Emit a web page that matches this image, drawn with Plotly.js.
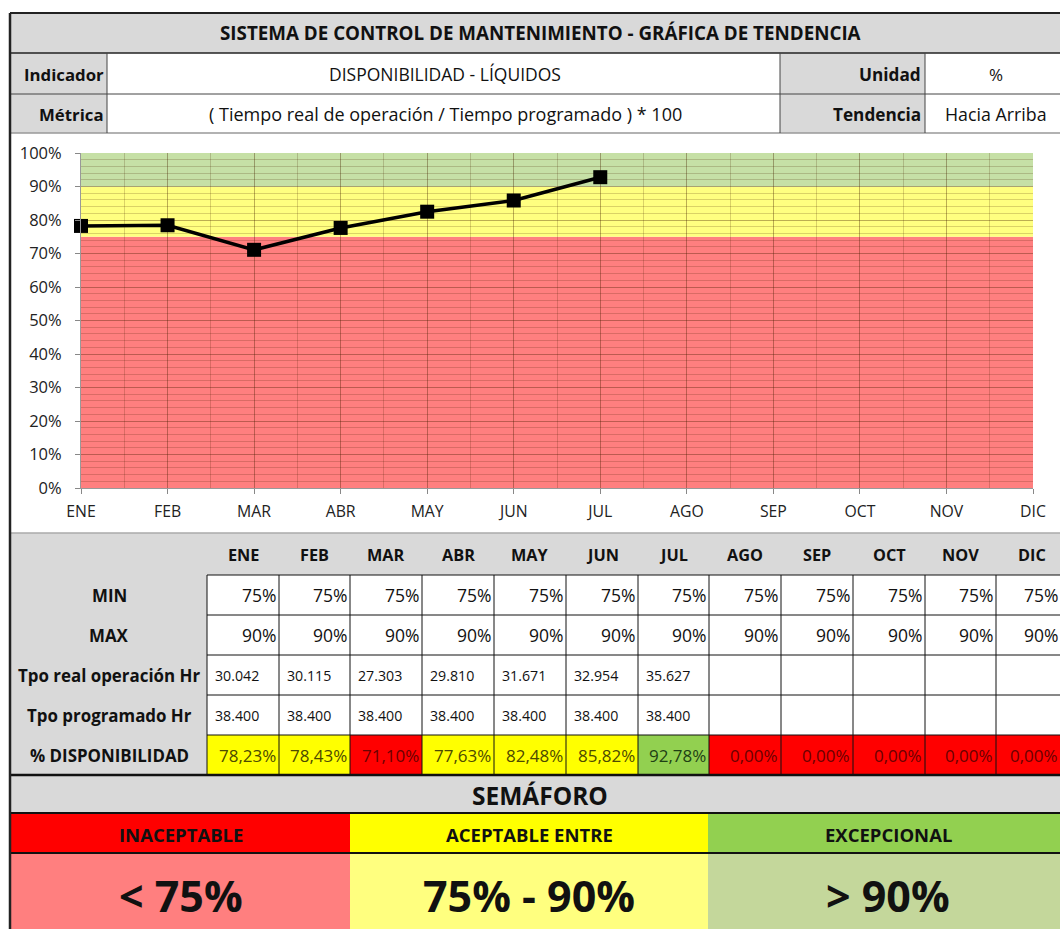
<!DOCTYPE html>
<html>
<head>
<meta charset="utf-8">
<script src="https://cdn.plot.ly/plotly-3.0.1.min.js"></script>
<style>html,body{margin:0;padding:0;background:#fff;}#chart{width:1060px;height:929px;}</style>
</head>
<body>
<div id="chart"></div>
<script>
// ---------- DATA ----------
const months = ["ENE","FEB","MAR","ABR","MAY","JUN","JUL","AGO","SEP","OCT","NOV","DIC"];
const minVals = [75,75,75,75,75,75,75,75,75,75,75,75];
const maxVals = [90,90,90,90,90,90,90,90,90,90,90,90];
const tpoReal = [30042, 30115, 27303, 29810, 31671, 32954, 35627];
const tpoProg = [38400, 38400, 38400, 38400, 38400, 38400, 38400];
const disponibilidad = [78.23, 78.43, 71.10, 77.63, 82.48, 85.82, 92.78, 0, 0, 0, 0, 0];
const yTicks = [0,10,20,30,40,50,60,70,80,90,100];

const titleText = "SISTEMA DE CONTROL DE MANTENIMIENTO - GRÁFICA DE TENDENCIA";
const indicador = "DISPONIBILIDAD - LÍQUIDOS";
const metrica = "( Tiempo real de operación / Tiempo programado ) * 100";
const unidad = "%";
const tendencia = "Hacia Arriba";
const rowLabels = ["MIN","MAX","Tpo real operación Hr","Tpo programado Hr","% DISPONIBILIDAD"];
const semLabels = ["INACEPTABLE","ACEPTABLE ENTRE","EXCEPCIONAL"];

// ---------- HELPERS ----------
const W = 1060, H = 929;
const PX = p => p / W;
const PY = p => 1 - p / H;
const FONT = "'Open Sans', Lato, sans-serif";
const shapes = [];
const ann = [];
function rect(x0,y0,x1,y1,fill,lc,lw){
  shapes.push({type:'rect',xref:'paper',yref:'paper',x0:PX(x0),x1:PX(x1),y0:PY(y1),y1:PY(y0),
    fillcolor:fill||'rgba(0,0,0,0)',line:{color:lc||'rgba(0,0,0,0)',width:lw||0},layer:'below'});
}
function line(x0,y0,x1,y1,c,w){
  shapes.push({type:'line',xref:'paper',yref:'paper',x0:PX(x0),x1:PX(x1),y0:PY(y0),y1:PY(y1),
    line:{color:c,width:w},layer:'above'});
}
function txt(x,y,s,o){
  o = o||{};
  ann.push({xref:'paper',yref:'paper',x:PX(x),y:PY(y),text:s,showarrow:false,
    xanchor:o.anchor||'center',yanchor:'middle',borderpad:0,
    font:{family:FONT,size:o.size||15,color:o.color||'#111',weight:o.bold?'bold':'normal'}});
}
const fmtPct = v => v.toFixed(2).replace('.',',') + '%';
const fmtHr = v => { const s = String(v); return s.slice(0,s.length-3) + '.' + s.slice(-3); };

const GREY = '#d9d9d9';
// ---------- HEADER ----------
rect(10,13,1075,53,GREY);
rect(10,53,107,133,GREY);
rect(107,53,780,133,'#ffffff');
rect(780,53,925,133,GREY);
rect(925,53,1075,133,'#ffffff');
line(10,53,1075,53,'#222',1.5);
line(10,94,1075,94,'#444',1);
line(10,133,1075,133,'#999',1.5);
line(107,53,107,133,'#444',1);
line(780,53,780,133,'#444',1);
line(925,53,925,133,'#444',1);
txt(540,33,titleText,{bold:true,size:18.8});
txt(105,74,'Indicador',{bold:true,anchor:'right',size:16.8});
txt(445,74,indicador,{size:17.5});
txt(922,74,'Unidad',{bold:true,anchor:'right',size:17.2});
txt(996,74,unidad,{size:17});
txt(105,114,'Métrica',{bold:true,anchor:'right',size:16.8});
txt(445,114,metrica,{size:18});
txt(922,114,'Tendencia',{bold:true,anchor:'right',size:17.2});
txt(996,114,tendencia,{size:17.8});

// ---------- TABLE ----------
const colEdges = [207,279,350,422,494,566,638,709,781,853,925,996,1068];
const rowEdges = [575,615,655,695,735,775];
rect(10,533,1075,775,GREY);
line(10,533,1075,533,'#aaa',1.5);
for(let r=0;r<4;r++) rect(207,rowEdges[r],1075,rowEdges[r+1],'#ffffff');
function dispColor(v){ return v < minVals[0] ? '#ff0000' : (v <= maxVals[0] ? '#ffff00' : '#92d050'); }
function dispText(v){ return v < minVals[0] ? '#6b0000' : (v <= maxVals[0] ? '#4d4a00' : '#1e3f14'); }
months.forEach((m,i)=>{
  const x0 = colEdges[i], x1 = colEdges[i+1], xc = (x0+x1)/2;
  const xr = Math.min(x1-2, 1059);
  rect(x0,735,x1,775,dispColor(disponibilidad[i]));
  txt(xc,555,m,{bold:true,size:16.3});
  txt(xr,595,minVals[i]+'%',{anchor:'right',size:17.5});
  txt(xr,635,maxVals[i]+'%',{anchor:'right',size:17.5});
  if(i < tpoReal.length) txt(x0+7,675,fmtHr(tpoReal[i]),{anchor:'left',size:14.2});
  if(i < tpoProg.length) txt(x0+7,715,fmtHr(tpoProg[i]),{anchor:'left',size:14.2});
  txt(xr,755,fmtPct(disponibilidad[i]),{anchor:'right',size:17,color:dispText(disponibilidad[i])});
});
colEdges.forEach(x=>line(x,575,x,775,'#111',1));
rowEdges.forEach(y=>line(207,y,1075,y,'#111',1));
rowLabels.forEach((l,r)=>txt(109,(rowEdges[r]+rowEdges[r+1])/2,l,{bold:true,size:16.9}));

// ---------- SEMAFORO ----------
rect(10,775,1075,813,GREY);
rect(10,813,350,853,'#ff0000');
rect(350,813,708,853,'#ffff00');
rect(708,813,1075,853,'#92d050');
rect(10,853,350,935,'#ff7f7f');
rect(350,853,708,935,'#ffff7f');
rect(708,853,1075,935,'#c4d79b');
line(10,775,1075,775,'#111',2.5);
line(10,813,1075,813,'#111',2);
line(10,853,1075,853,'#111',2);
txt(540,795,'SEMÁFORO',{bold:true,size:24.5});
txt(181,834,semLabels[0],{bold:true,size:18.5});
txt(529,834,semLabels[1],{bold:true,size:18.5});
txt(888,834,semLabels[2],{bold:true,size:18.5});
txt(181,895,'&lt; ' + minVals[0] + '%',{bold:true,size:43});
txt(529,895,minVals[0] + '% - ' + maxVals[0] + '%',{bold:true,size:43});
txt(888,895,'&gt; ' + maxVals[0] + '%',{bold:true,size:43});

// outer frame
line(10,13,10,935,'#222',2.5);
line(10,13,1075,13,'#222',2);

// ---------- CHART ZONES ----------
const zMin = minVals[0], zMax = maxVals[0];
shapes.push({type:'rect',xref:'x domain',yref:'y',x0:0,x1:1,y0:yTicks[0],y1:zMin,fillcolor:'#ff7f7f',line:{width:0},layer:'below'});
shapes.push({type:'rect',xref:'x domain',yref:'y',x0:0,x1:1,y0:zMin,y1:zMax,fillcolor:'#ffff80',line:{width:0},layer:'below'});
shapes.push({type:'rect',xref:'x domain',yref:'y',x0:0,x1:1,y0:zMax,y1:yTicks[yTicks.length-1],fillcolor:'#c6e0a6',line:{width:0},layer:'below'});

const n = tpoReal.length;
const trace = {
  x: months.slice(0,n).map((m,i)=>i),
  y: disponibilidad.slice(0,n),
  type:'scatter', mode:'lines+markers',
  line:{color:'#000',width:3.5},
  marker:{symbol:'square',size:14,color:'#000'},
  cliponaxis:false, hoverinfo:'skip', showlegend:false
};

const GRID = 'rgba(70,30,0,0.2)';
const layout = {
  width:W, height:H,
  margin:{l:0,r:0,t:0,b:0},
  paper_bgcolor:'#ffffff', plot_bgcolor:'rgba(0,0,0,0)',
  font:{family:FONT,color:'#111'},
  showlegend:false,
  xaxis:{
    domain:[PX(81),PX(1033)], range:[0, months.length-1],
    tickmode:'array', tickvals:months.map((m,i)=>i), ticktext:months,
    showgrid:true, gridcolor:GRID, gridwidth:1,
    minor:{tickmode:'linear',tick0:0,dtick:0.5,showgrid:true,gridcolor:GRID,gridwidth:1,ticks:''},
    ticks:'outside', ticklen:5, tickcolor:'#888', tickwidth:1,
    showline:true, linecolor:'#999', linewidth:1,
    tickfont:{family:FONT,size:15.8,color:'#222'}, ticklabelstandoff:4,
    zeroline:false, fixedrange:true
  },
  yaxis:{
    domain:[PY(488),PY(153)], range:[yTicks[0], yTicks[yTicks.length-1]],
    tickmode:'array', tickvals:yTicks, ticktext:yTicks.map(v=>v+'%'),
    showgrid:true, gridcolor:GRID, gridwidth:1,
    minor:{tickmode:'linear',tick0:0,dtick:2,showgrid:true,gridcolor:GRID,gridwidth:1,ticks:''},
    ticks:'outside', ticklen:5, tickcolor:'#888', tickwidth:1,
    showline:true, linecolor:'#999', linewidth:1,
    tickfont:{family:FONT,size:16.5,color:'#222'}, ticklabelstandoff:10,
    zeroline:false, fixedrange:true
  },
  shapes:shapes,
  annotations:ann
};
Plotly.newPlot('chart',[trace],layout,{displayModeBar:false,staticPlot:true});
</script>
</body>
</html>
